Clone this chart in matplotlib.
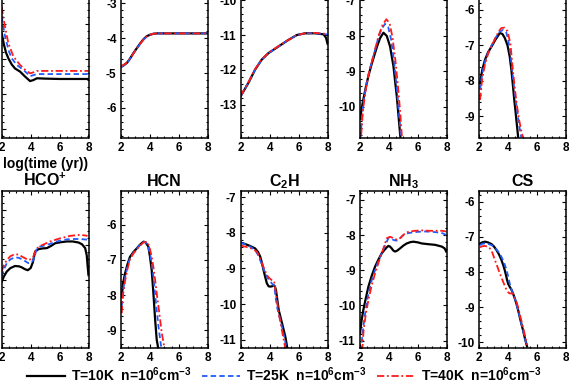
import matplotlib
matplotlib.use("Agg")
import matplotlib.pyplot as plt
from matplotlib.ticker import MultipleLocator
from matplotlib.lines import Line2D

plt.rcParams['font.family'] = ['Liberation Sans', 'DejaVu Sans']
plt.rcParams['font.weight'] = 'bold'
plt.rcParams['mathtext.fontset'] = 'custom'
plt.rcParams['mathtext.rm'] = 'Liberation Sans:bold'
plt.rcParams['mathtext.it'] = 'Liberation Sans:bold'
plt.rcParams['mathtext.bf'] = 'Liberation Sans:bold'
plt.rcParams['mathtext.default'] = 'rm'
plt.rcParams['axes.unicode_minus'] = False

# ---------------- data (log time in yr, log abundance) ----------------
# Row 1 (titles cut off)
t_r1c1_k = [2.0, 2.15, 2.3, 2.46, 2.7, 2.92, 3.27, 3.61, 3.96, 4.2, 4.43, 5.0, 6.0, 7.0, 8.0]
y_r1c1_k = [-4.27, -4.58, -4.82, -4.98, -5.16, -5.27, -5.36, -5.5, -5.63, -5.6, -5.55, -5.56, -5.57, -5.57, -5.57]
t_r1c1_b = [2.0, 2.12, 2.23, 2.35, 2.5, 2.69, 3.04, 3.5, 3.96, 4.2, 4.43, 5.0, 6.0, 7.0, 8.0]
y_r1c1_b = [-3.79, -4.1, -4.35, -4.55, -4.78, -4.98, -5.17, -5.31, -5.49, -5.46, -5.43, -5.43, -5.43, -5.43, -5.43]
t_r1c1_r = [2.0, 2.1, 2.23, 2.46, 2.81, 3.27, 3.6, 3.96, 4.2, 4.43, 5.0, 6.0, 7.0, 8.0]
y_r1c1_r = [-3.51, -3.8, -4.08, -4.55, -4.93, -5.17, -5.3, -5.41, -5.38, -5.34, -5.34, -5.34, -5.34, -5.34]

t_r1c2 = [2.0, 2.2, 2.4, 2.6, 2.85, 3.1, 3.32, 3.55, 3.78, 4.0, 4.24, 4.5, 5.0, 6.0, 7.0, 8.0]
y_r1c2_k = [-4.82, -4.77, -4.71, -4.6, -4.43, -4.28, -4.15, -4.03, -3.94, -3.9, -3.87, -3.86, -3.86, -3.86, -3.86, -3.86]
y_r1c2_b = [-4.83, -4.78, -4.71, -4.6, -4.44, -4.29, -4.16, -4.04, -3.95, -3.9, -3.87, -3.86, -3.86, -3.86, -3.86, -3.86]
y_r1c2_r = [-4.8, -4.76, -4.7, -4.6, -4.44, -4.29, -4.16, -4.04, -3.95, -3.9, -3.87, -3.86, -3.86, -3.86, -3.86, -3.86]

t_r1c3 = [2.0, 2.53, 2.99, 3.45, 3.92, 4.61, 5.3, 5.88, 6.46, 7.15, 7.73, 7.9, 8.0]
y_r1c3_k = [-12.76, -12.38, -12.0, -11.71, -11.52, -11.33, -11.14, -11.0, -10.95, -10.95, -10.98, -11.08, -11.25]
y_r1c3_b = [-12.76, -12.38, -12.0, -11.71, -11.52, -11.33, -11.14, -11.0, -10.95, -10.95, -10.97, -10.98, -10.98]
y_r1c3_r = [-12.74, -12.36, -11.99, -11.7, -11.51, -11.32, -11.14, -11.0, -10.95, -10.94, -10.96, -10.97, -10.98]

t_r1c4_k = [2.0, 2.2, 2.4, 2.58, 2.8, 3.04, 3.2, 3.39, 3.62, 3.85, 4.08, 4.31, 4.54, 4.7, 4.79, 4.85]
y_r1c4_k = [-10.33, -9.85, -9.45, -9.13, -8.8, -8.48, -8.27, -8.06, -7.91, -8.0, -8.3, -8.85, -9.69, -10.43, -10.84, -11.3]
t_r1c4_b = [2.0, 2.1, 2.23, 2.4, 2.58, 2.8, 3.04, 3.3, 3.5, 3.73, 3.95, 4.15, 4.35, 4.55, 4.7, 4.84, 4.9]
y_r1c4_b = [-11.1, -10.5, -9.9, -9.45, -9.1, -8.75, -8.4, -8.0, -7.8, -7.66, -7.75, -8.1, -8.7, -9.5, -10.2, -10.86, -11.2]
t_r1c4_r = [2.0, 2.08, 2.2, 2.4, 2.58, 2.8, 3.04, 3.3, 3.55, 3.82, 4.05, 4.25, 4.45, 4.62, 4.77, 4.9, 4.95]
y_r1c4_r = [-11.2, -10.8, -10.1, -9.5, -9.12, -8.75, -8.38, -7.98, -7.7, -7.53, -7.65, -8.05, -8.7, -9.4, -10.1, -10.86, -11.2]

t_r1c5_k = [2.05, 2.2, 2.39, 2.6, 2.85, 3.1, 3.42, 3.6, 3.76, 3.95, 4.1, 4.22, 4.33, 4.42, 4.5, 4.6, 4.7]
y_r1c5_k = [-8.07, -7.7, -7.41, -7.2, -7.03, -6.85, -6.65, -6.68, -6.79, -7.0, -7.31, -7.7, -8.16, -8.55, -8.85, -9.25, -9.65]
t_r1c5_b = [2.05, 2.2, 2.4, 2.6, 2.85, 3.1, 3.4, 3.65, 3.85, 4.0, 4.15, 4.3, 4.45, 4.6, 4.75, 4.9]
y_r1c5_b = [-8.25, -7.8, -7.45, -7.22, -7.0, -6.8, -6.62, -6.56, -6.62, -6.85, -7.25, -7.8, -8.35, -8.8, -9.25, -9.6]
t_r1c5_r = [2.05, 2.2, 2.39, 2.6, 2.85, 3.1, 3.35, 3.53, 3.75, 3.95, 4.15, 4.3, 4.45, 4.6, 4.75, 4.9, 5.02]
y_r1c5_r = [-8.54, -7.95, -7.55, -7.25, -7.02, -6.8, -6.6, -6.51, -6.5, -6.6, -6.95, -7.6, -8.2, -8.7, -9.1, -9.4, -9.6]

# Row 2
t_hco_k = [2.0, 2.15, 2.35, 2.6, 2.92, 3.2, 3.39, 3.6, 3.8, 4.0, 4.15, 4.31, 4.54, 4.8, 5.12, 5.4, 5.7, 6.1, 6.5, 6.9, 7.31, 7.55, 7.77, 7.88, 7.94, 8.0]
y_hco_k = [-10.05, -9.9, -9.76, -9.66, -9.6, -9.61, -9.64, -9.69, -9.72, -9.66, -9.5, -9.19, -9.12, -9.1, -9.09, -9.03, -8.95, -8.92, -8.9, -8.9, -8.93, -8.98, -9.09, -9.3, -9.6, -9.86]
t_hco_b = [2.0, 2.15, 2.35, 2.6, 2.92, 3.2, 3.5, 3.85, 4.05, 4.19, 4.3, 4.42, 4.6, 5.12, 5.8, 6.5, 7.0, 7.43, 7.94]
y_hco_b = [-9.9, -9.7, -9.52, -9.41, -9.35, -9.37, -9.43, -9.52, -9.5, -9.43, -9.28, -9.12, -9.05, -9.0, -8.9, -8.84, -8.83, -8.83, -8.85]
t_hco_r = [2.0, 2.15, 2.35, 2.6, 2.92, 3.2, 3.39, 3.85, 4.05, 4.19, 4.3, 4.42, 4.66, 5.35, 6.04, 6.73, 7.43, 7.94]
y_hco_r = [-9.76, -9.58, -9.43, -9.32, -9.26, -9.28, -9.33, -9.43, -9.4, -9.33, -9.2, -9.1, -9.03, -8.9, -8.81, -8.74, -8.71, -8.74]

t_hcn_k = [2.05, 2.15, 2.28, 2.45, 2.62, 2.85, 3.09, 3.3, 3.55, 3.7, 3.89, 4.0, 4.12, 4.24, 4.36, 4.47, 4.55, 4.63]
y_hcn_k = [-8.04, -7.65, -7.38, -7.12, -6.91, -6.78, -6.67, -6.57, -6.48, -6.5, -6.62, -6.9, -7.28, -7.95, -8.7, -9.27, -9.45, -9.6]
t_hcn_b = [2.05, 2.15, 2.28, 2.45, 2.62, 2.85, 3.09, 3.3, 3.5, 3.66, 3.85, 4.0, 4.12, 4.24, 4.42, 4.59, 4.82]
y_hcn_b = [-8.32, -7.85, -7.5, -7.18, -6.95, -6.8, -6.68, -6.57, -6.5, -6.48, -6.58, -6.81, -7.1, -7.47, -8.23, -8.89, -9.6]
t_hcn_r = [2.05, 2.15, 2.28, 2.45, 2.62, 2.85, 3.09, 3.3, 3.55, 3.78, 3.95, 4.12, 4.24, 4.36, 4.47, 4.59, 4.82, 5.05]
y_hcn_r = [-8.51, -7.95, -7.6, -7.25, -6.98, -6.82, -6.7, -6.6, -6.5, -6.48, -6.6, -6.9, -7.2, -7.57, -7.95, -8.32, -9.08, -9.6]

t_c2h_k = [2.0, 2.2, 2.53, 2.8, 3.0, 3.2, 3.35, 3.47, 3.58, 3.7, 3.81, 3.93, 4.05, 4.17, 4.28, 4.36, 4.44, 4.53, 4.63, 4.86, 5.09, 5.25]
y_c2h_k = [-8.28, -8.3, -8.35, -8.4, -8.44, -8.54, -8.67, -8.85, -9.05, -9.25, -9.42, -9.5, -9.51, -9.5, -9.47, -9.5, -9.61, -9.88, -10.17, -10.54, -10.92, -11.3]
t_c2h_b = [2.0, 2.3, 2.7, 3.0, 3.2, 3.35, 3.52, 3.7, 3.88, 4.05, 4.17, 4.28, 4.36, 4.44, 4.55, 4.74, 4.9, 5.05, 5.2]
y_c2h_b = [-8.28, -8.32, -8.4, -8.49, -8.62, -8.77, -8.95, -9.14, -9.28, -9.37, -9.43, -9.47, -9.62, -9.89, -10.15, -10.45, -10.72, -11.0, -11.3]
t_c2h_r = [2.0, 2.2, 2.53, 2.8, 3.12, 3.3, 3.47, 3.65, 3.81, 4.0, 4.16, 4.3, 4.35, 4.44, 4.63, 4.78, 4.91, 5.09]
y_c2h_r = [-8.35, -8.38, -8.41, -8.45, -8.53, -8.68, -8.86, -9.03, -9.19, -9.28, -9.33, -9.35, -9.45, -9.7, -10.26, -10.58, -10.87, -11.25]

t_nh3_k = [2.0, 2.1, 2.23, 2.4, 2.58, 2.8, 3.04, 3.27, 3.5, 3.7, 3.85, 3.96, 4.08, 4.19, 4.3, 4.42, 4.55, 4.77, 5.0, 5.23, 5.5, 5.7, 6.0, 6.27, 6.7, 7.2, 7.66, 7.85, 7.96]
y_nh3_k = [-10.8, -10.45, -10.13, -9.8, -9.47, -9.17, -8.9, -8.7, -8.52, -8.42, -8.35, -8.31, -8.33, -8.38, -8.44, -8.47, -8.45, -8.38, -8.3, -8.24, -8.2, -8.19, -8.21, -8.24, -8.26, -8.28, -8.33, -8.38, -8.47]
t_nh3_b = [2.07, 2.15, 2.23, 2.4, 2.58, 2.8, 3.04, 3.27, 3.5, 3.75, 3.96, 4.15, 4.31, 4.5, 4.66, 4.85, 5.0, 5.3, 5.58, 6.0, 6.5, 7.0, 7.43, 7.7, 7.96]
y_nh3_b = [-11.3, -10.9, -10.6, -10.1, -9.66, -9.3, -9.0, -8.74, -8.52, -8.28, -8.09, -8.1, -8.14, -8.16, -8.14, -8.06, -8.0, -7.95, -7.93, -7.91, -7.9, -7.91, -7.93, -7.95, -8.0]
t_nh3_r = [2.15, 2.25, 2.4, 2.58, 2.8, 3.04, 3.27, 3.5, 3.7, 3.85, 4.08, 4.25, 4.42, 4.6, 4.77, 4.95, 5.12, 5.4, 5.81, 6.3, 6.73, 7.2, 7.66, 7.96]
y_nh3_r = [-11.3, -10.7, -10.25, -9.85, -9.45, -9.09, -8.8, -8.52, -8.28, -8.09, -8.05, -8.08, -8.12, -8.13, -8.09, -8.02, -7.95, -7.9, -7.88, -7.87, -7.88, -7.88, -7.88, -7.9]

t_cs_k = [2.05, 2.2, 2.39, 2.6, 2.85, 3.02, 3.19, 3.36, 3.53, 3.65, 3.76, 3.85, 3.92, 4.0, 4.1, 4.22, 4.33, 4.45, 4.56, 4.68, 4.79, 4.9, 5.02, 5.15, 5.3]
y_cs_k = [-7.19, -7.16, -7.14, -7.16, -7.21, -7.28, -7.38, -7.5, -7.66, -7.8, -7.95, -8.1, -8.23, -8.34, -8.42, -8.5, -8.61, -8.75, -8.89, -9.08, -9.27, -9.46, -9.65, -9.88, -10.12]
t_cs_b = [2.05, 2.2, 2.39, 2.6, 2.85, 3.02, 3.19, 3.36, 3.53, 3.7, 3.85, 3.98, 4.1, 4.22, 4.33, 4.45, 4.56, 4.68, 4.79, 4.9, 5.02, 5.15, 5.3]
y_cs_b = [-7.24, -7.2, -7.19, -7.2, -7.24, -7.28, -7.36, -7.45, -7.57, -7.72, -7.9, -8.1, -8.32, -8.5, -8.62, -8.75, -8.89, -9.08, -9.27, -9.46, -9.65, -9.88, -10.12]
t_cs_r = [2.05, 2.2, 2.39, 2.55, 2.73, 2.9, 3.08, 3.25, 3.42, 3.55, 3.65, 3.77, 3.88, 4.0, 4.1, 4.22, 4.33, 4.45, 4.56, 4.68, 4.84, 4.95, 5.07, 5.18, 5.3]
y_cs_r = [-7.3, -7.27, -7.26, -7.28, -7.33, -7.45, -7.66, -7.85, -8.04, -8.18, -8.28, -8.4, -8.51, -8.58, -8.61, -8.61, -8.61, -8.72, -8.84, -9.0, -9.27, -9.45, -9.65, -9.85, -10.07]

titles_row2 = ['HCO$^{+}$', 'HCN', 'C$_{2}$H', 'NH$_{3}$', 'CS']
legend_labels = ['T=10K  n=10$^{6}$cm$^{-3}$', 'T=25K  n=10$^{6}$cm$^{-3}$', 'T=40K  n=10$^{6}$cm$^{-3}$']
xticks = [2, 4, 6, 8]
ylims_row1 = [(-7.24, -2.76), (-6.85, -2.34), (-13.95, -9.43), (-10.86, -6.44), (-9.6, -5.17)]
ylims_row2 = [(-11.94, -7.46), (-9.5, -5.04), (-11.23, -6.83), (-11.21, -6.75), (-10.16, -5.7)]

row1 = [
    ((t_r1c1_k, y_r1c1_k), (t_r1c1_b, y_r1c1_b), (t_r1c1_r, y_r1c1_r)),
    ((t_r1c2, y_r1c2_k), (t_r1c2, y_r1c2_b), (t_r1c2, y_r1c2_r)),
    ((t_r1c3, y_r1c3_k), (t_r1c3, y_r1c3_b), (t_r1c3, y_r1c3_r)),
    ((t_r1c4_k, y_r1c4_k), (t_r1c4_b, y_r1c4_b), (t_r1c4_r, y_r1c4_r)),
    ((t_r1c5_k, y_r1c5_k), (t_r1c5_b, y_r1c5_b), (t_r1c5_r, y_r1c5_r)),
]
row2 = [
    ((t_hco_k, y_hco_k), (t_hco_b, y_hco_b), (t_hco_r, y_hco_r)),
    ((t_hcn_k, y_hcn_k), (t_hcn_b, y_hcn_b), (t_hcn_r, y_hcn_r)),
    ((t_c2h_k, y_c2h_k), (t_c2h_b, y_c2h_b), (t_c2h_r, y_c2h_r)),
    ((t_nh3_k, y_nh3_k), (t_nh3_b, y_nh3_b), (t_nh3_r, y_nh3_r)),
    ((t_cs_k, y_cs_k), (t_cs_b, y_cs_b), (t_cs_r, y_cs_r)),
]

# ---------------- styles ----------------
W, H = 569, 382
styles = [
    dict(color='black', lw=1.6, ls='-'),
    dict(color='#1f5bff', lw=1.3, ls=(0, (3.0, 1.8))),
    dict(color='#ff1a1a', lw=1.3, ls=(0, (4.0, 1.5, 1.0, 1.5))),
]
col_left = [1.7, 121.0, 240.7, 360.0, 479.3]
col_w = 86.8
row_top = [-19.5, 191.0]
row_h = [157.0, 157.0]

fig = plt.figure(figsize=(W / 100, H / 100), dpi=100)


def make_ax(left, top, w, h):
    ax = fig.add_axes([left / W, 1 - (top + h) / H, w / W, h / H])
    ax.set_xlim(2, 8)
    ax.set_xticks(xticks)
    ax.xaxis.set_minor_locator(MultipleLocator(0.5))
    ax.yaxis.set_major_locator(MultipleLocator(1))
    ax.yaxis.set_minor_locator(MultipleLocator(0.2))
    ax.tick_params(which='both', direction='in', top=True, right=True,
                   labelsize=8.5, pad=3.2, width=0.8)
    ax.tick_params(which='major', length=3.2)
    ax.tick_params(which='minor', length=1.6)
    for s in ax.spines.values():
        s.set_linewidth(1.1)
    return ax


for r, (rowdata, ylims) in enumerate([(row1, ylims_row1), (row2, ylims_row2)]):
    for c in range(5):
        ax = make_ax(col_left[c], row_top[r], col_w, row_h[r])
        for (tt, yy), st in zip(rowdata[c], styles):
            ax.plot(tt, yy, color=st['color'], lw=st['lw'], ls=st['ls'])
        ax.set_ylim(*ylims[c])
        if c == 0:
            # the y labels of the first column lie outside the cropped picture
            ax.tick_params(axis='y', labelleft=False)
        for lab in ax.get_xticklabels() + ax.get_yticklabels():
            lab.set_fontweight('bold')
        if r == 1:
            ax.set_title(titles_row2[c], fontsize=11.5, fontweight='bold', pad=3.5)
        if r == 0 and c == 0:
            ax.set_xlabel('log(time (yr))', fontsize=10, fontweight='bold', labelpad=2.5)

handles = [Line2D([], [], color=st['color'], lw=st['lw'], ls=st['ls']) for st in styles]
fig.legend(handles, legend_labels, loc='center', ncol=3, frameon=False,
           bbox_to_anchor=(0.5, 1 - 375 / H),
           prop={'weight': 'bold', 'size': 10},
           handlelength=2.7, handletextpad=0.45, columnspacing=0.75,
           borderaxespad=0, borderpad=0)

fig.savefig('out.png', dpi=100)
